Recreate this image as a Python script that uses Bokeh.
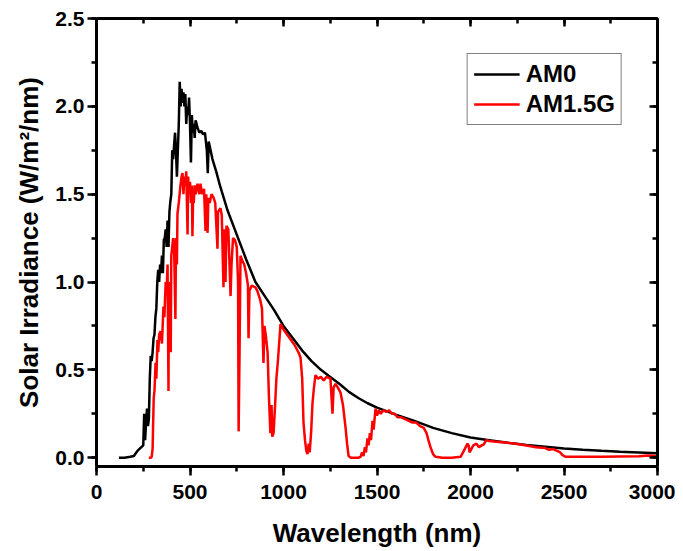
from bokeh.plotting import figure
from bokeh.models import (LinearAxis, SingleIntervalTicker, NumeralTickFormatter, Range1d, Legend,
                          LegendItem, CustomJSTickFormatter)
from bokeh.embed import file_html
from bokeh.resources import INLINE

# AM0 extraterrestrial spectrum
am0_wl = [120, 150, 180, 200, 210, 220, 230, 240, 250, 255, 260, 265, 270, 275, 280, 285, 290, 295,
          300, 305, 310, 315, 320, 325, 330, 335, 340, 345, 350, 355, 360, 365, 370, 375, 380, 385,
          390, 395, 400, 405, 410, 415, 420, 425, 430, 435, 440, 445, 450, 455, 460, 465, 470, 475,
          480, 485, 490, 495, 500, 505, 510, 515, 520, 525, 530, 540, 550, 560, 570, 580, 590, 595,
          600, 610, 620, 640, 660, 680, 700, 750, 800, 850, 900, 950, 1000, 1050, 1100, 1150, 1200,
          1250, 1300, 1350, 1400, 1450, 1500, 1600, 1700, 1800, 1900, 2000, 2100, 2200, 2300, 2400,
          2500, 2600, 2700, 2800, 2900, 3000]
am0_irr = [0.0, 0.0, 0.005, 0.01, 0.025, 0.04, 0.05, 0.06, 0.07, 0.25, 0.10, 0.20, 0.28, 0.18, 0.22,
           0.45, 0.58, 0.55, 0.60, 0.68, 0.70, 0.80, 0.85, 1.00, 1.07, 1.00, 1.10, 1.05, 1.15, 1.05,
           1.24, 1.25, 1.30, 1.20, 1.35, 1.20, 1.40, 1.46, 1.50, 1.75, 1.70, 1.78, 1.85, 1.75, 1.60,
           1.75, 1.90, 2.14, 2.00, 2.10, 2.02, 2.08, 2.00, 2.07, 1.90, 2.00, 1.95, 2.05, 1.90, 1.68,
           1.95, 1.85, 1.90, 1.82, 1.92, 1.88, 1.85, 1.86, 1.84, 1.85, 1.75, 1.62, 1.80, 1.75, 1.70,
           1.63, 1.55, 1.48, 1.41, 1.27, 1.13, 1.00, 0.92, 0.84, 0.75, 0.68, 0.61, 0.55, 0.50, 0.46,
           0.42, 0.375, 0.34, 0.31, 0.285, 0.245, 0.21, 0.17, 0.14, 0.115, 0.10, 0.085, 0.072, 0.062,
           0.052, 0.045, 0.039, 0.034, 0.030, 0.026]

# AM1.5G terrestrial spectrum
am15_wl = [280, 290, 295, 300, 303, 306, 310, 316, 320, 326, 330, 335, 342, 350, 358, 363, 370, 375,
           380, 385, 387, 393, 397, 400, 405, 410, 415, 422, 425, 430, 433, 440, 449, 455, 460, 465,
           470, 475, 480, 487, 490, 495, 500, 505, 510, 513, 517, 520, 525, 530, 540, 550, 556, 565,
           575, 583, 587, 594, 598, 605, 615, 626, 635, 647, 650, 663, 670, 679, 685, 690, 695, 705,
           717, 722, 730, 740, 750, 757, 760, 765, 770, 780, 790, 800, 810, 813, 818, 830, 850, 860,
           875, 885, 893, 898, 905, 915, 922, 930, 936, 940, 947, 955, 962, 970, 980, 984, 1000, 1020,
           1040, 1060, 1080, 1091, 1100, 1107, 1115, 1122, 1128, 1135, 1140, 1148, 1155, 1163, 1171,
           1185, 1200, 1215, 1230, 1251, 1262, 1268, 1278, 1290, 1305, 1318, 1332, 1340, 1348, 1360,
           1380, 1400, 1412, 1420, 1428, 1435, 1441, 1449, 1455, 1462, 1468, 1476, 1482, 1492, 1500,
           1510, 1520, 1535, 1550, 1565, 1580, 1595, 1610, 1630, 1650, 1670, 1690, 1710, 1730, 1750,
           1765, 1775, 1786, 1800, 1813, 1850, 1900, 1947, 1965, 1984, 1990, 1995, 2005, 2015, 2032,
           2045, 2060, 2070, 2085, 2100, 2150, 2200, 2250, 2300, 2350, 2400, 2420, 2440, 2460, 2480,
           2492, 2510, 2600, 2700, 2800, 2900, 2950, 3000]
am15_irr = [0.0, 0.0, 0.005, 0.05, 0.20, 0.34, 0.38, 0.54, 0.45, 0.67, 0.60, 0.70, 0.72, 0.65, 0.86,
            0.80, 1.00, 0.95, 1.10, 0.38, 1.00, 0.90, 0.60, 1.15, 1.20, 1.25, 1.20, 0.79, 1.25, 1.10,
            1.39, 1.45, 1.55, 1.60, 1.62, 1.50, 1.60, 1.55, 1.63, 1.27, 1.60, 1.50, 1.57, 1.45, 1.55,
            1.26, 1.50, 1.45, 1.55, 1.50, 1.56, 1.50, 1.56, 1.50, 1.53, 1.29, 1.50, 1.28, 1.48, 1.45,
            1.50, 1.48, 1.45, 1.19, 1.40, 1.42, 1.38, 0.97, 1.30, 1.00, 1.32, 1.30, 0.92, 1.10, 1.25,
            1.24, 1.20, 1.00, 0.15, 0.60, 1.15, 1.12, 1.10, 1.05, 0.98, 0.68, 0.95, 0.98, 0.97, 0.95,
            0.90, 0.85, 0.54, 0.75, 0.70, 0.60, 0.35, 0.14, 0.30, 0.12, 0.14, 0.30, 0.45, 0.55, 0.70,
            0.76, 0.73, 0.70, 0.67, 0.64, 0.60, 0.57, 0.45, 0.20, 0.10, 0.04, 0.02, 0.08, 0.03, 0.15,
            0.31, 0.40, 0.47, 0.45, 0.46, 0.44, 0.46, 0.45, 0.25, 0.40, 0.42, 0.40, 0.37, 0.30, 0.17,
            0.08, 0.01, 0.0, 0.0, 0.0, 0.005, 0.03, 0.01, 0.06, 0.03, 0.11, 0.07, 0.14, 0.10, 0.21,
            0.16, 0.28, 0.24, 0.27, 0.25, 0.27, 0.26, 0.27, 0.25, 0.25, 0.23, 0.23, 0.22, 0.21, 0.20,
            0.20, 0.18, 0.17, 0.14, 0.10, 0.06, 0.02, 0.005, 0.0, 0.0, 0.005, 0.04, 0.08, 0.07, 0.03,
            0.05, 0.07, 0.08, 0.06, 0.07, 0.075, 0.10, 0.095, 0.09, 0.085, 0.078, 0.07, 0.06, 0.055,
            0.045, 0.05, 0.04, 0.03, 0.015, 0.005, 0.005, 0.005, 0.007, 0.008, 0.012, 0.010]

series_names = ["AM0", "AM1.5G"]
series_colors = ["black", "#ff0000"]

FONT = "Liberation Sans"

p = figure(width=675, height=551, output_backend="svg", toolbar_location=None,
           x_range=Range1d(0, 3000), y_range=Range1d(-0.05, 2.5),
           min_border_left=96, min_border_right=18, min_border_top=18, min_border_bottom=85)
p.xgrid.visible = False
p.ygrid.visible = False
p.outline_line_color = None
p.background_fill_color = "white"
p.border_fill_color = "white"

r0 = p.line(am0_wl, am0_irr, line_color=series_colors[0], line_width=2.5)
r1 = p.line(am15_wl, am15_irr, line_color=series_colors[1], line_width=2.5)

p.xaxis.ticker = SingleIntervalTicker(interval=500, num_minor_ticks=2)
p.yaxis.ticker = SingleIntervalTicker(interval=0.5, num_minor_ticks=2)
p.yaxis.formatter = NumeralTickFormatter(format="0.0")

for ax in (p.xaxis[0], p.yaxis[0]):
    ax.axis_line_width = 3
    ax.axis_line_color = "black"
    ax.major_tick_line_width = 2.5
    ax.minor_tick_line_width = 2.5
    ax.major_tick_out = 9
    ax.major_tick_in = 0
    ax.minor_tick_out = 5
    ax.minor_tick_in = 0
    ax.major_label_text_font = FONT
    ax.major_label_text_font_style = "bold"
    ax.major_label_text_font_size = "21px"
    ax.major_label_text_color = "black"
    ax.axis_label_text_font = FONT
    ax.axis_label_text_font_style = "bold"
    ax.axis_label_text_font_size = "26px"
    ax.axis_label_text_color = "black"

p.xaxis.axis_label = "Wavelength (nm)"
p.yaxis.axis_label = "Solar Irradiance (W/m²/nm)"
p.xaxis.major_label_standoff = 9
p.xaxis.axis_label_standoff = 16
p.yaxis.major_label_standoff = 3
p.yaxis.axis_label_standoff = 8

blank = CustomJSTickFormatter(code="return '';")
top = LinearAxis(ticker=SingleIntervalTicker(interval=500, num_minor_ticks=2), formatter=blank)
right = LinearAxis(ticker=SingleIntervalTicker(interval=0.5, num_minor_ticks=2), formatter=blank)
for ax in (top, right):
    ax.axis_line_width = 3
    ax.axis_line_color = "black"
    ax.major_tick_line_width = 2.5
    ax.minor_tick_line_width = 2.5
    ax.major_tick_in = 8
    ax.major_tick_out = 0
    ax.minor_tick_in = 5
    ax.minor_tick_out = 0
    ax.major_label_standoff = 0
p.add_layout(top, "above")
p.add_layout(right, "right")

legend = Legend(items=[LegendItem(label=series_names[0], renderers=[r0]),
                       LegendItem(label=series_names[1], renderers=[r1])],
                location="top_right")
legend.margin = 35
legend.padding = 6
legend.spacing = 2
legend.label_height = 28
legend.glyph_height = 28
legend.glyph_width = 46
legend.label_standoff = 6
legend.label_text_font = FONT
legend.label_text_font_style = "bold"
legend.label_text_font_size = "24px"
legend.label_text_color = "black"
legend.border_line_color = "black"
legend.border_line_width = 1.5
legend.background_fill_alpha = 1.0
p.add_layout(legend, "center")

open("out.html", "w").write(file_html(p, INLINE))
